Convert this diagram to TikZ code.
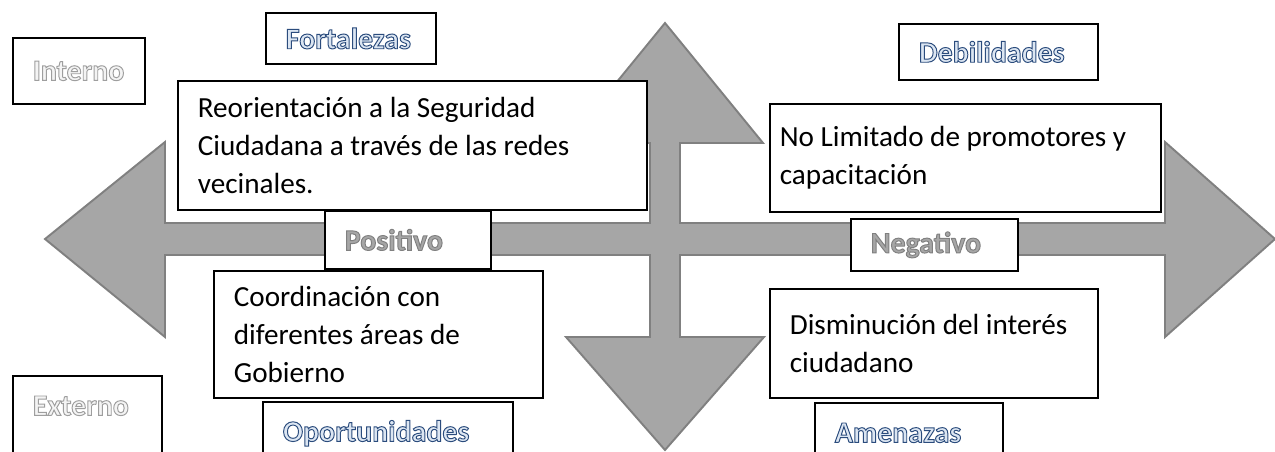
\documentclass[tikz,border=0pt]{standalone}
\usepackage{fontspec}
\setmainfont{Carlito}
\usepackage{xcolor}
\definecolor{arrowgray}{HTML}{A6A6A6}
\definecolor{arrowedge}{HTML}{808080}
\definecolor{bluefill}{HTML}{DCE6F2}
\definecolor{grayfill}{HTML}{F4F4F4}
\definecolor{darkfill}{HTML}{A6A6A6}
% filled and stroked letters (word art look)
\newcommand{\outlined}[3]{\textcolor{#1}{\special{pdf:literal direct 2 Tr 0.55 w #2 RG}#3\special{pdf:literal direct 0 Tr}}}
\newcommand{\bluetag}[1]{\outlined{bluefill}{0.17 0.30 0.49}{#1}}
\newcommand{\lighttag}[1]{\outlined{grayfill}{0.62 0.62 0.62}{#1}}
\newcommand{\darktag}[1]{\outlined{darkfill}{0.50 0.50 0.50}{#1}}

\begin{document}
\begin{tikzpicture}[x=0.02cm, y=-0.02cm,
    box/.style={draw=black, line width=1pt, fill=white, anchor=north west,
                align=flush left, inner xsep=0.4cm, inner ysep=0.2cm},
    txtbox/.style={box, font=\fontsize{16.6}{21.5}\selectfont},
    tagbox/.style={box, font=\fontsize{17}{20}\selectfont\bfseries},
    cutbox/.style={tagbox, text height=0.59cm, text depth=1.2cm}]
  \useasboundingbox (0,0) rectangle (1275,451);
  \clip (0,0) rectangle (1275,451);

  % four way arrow
  \filldraw[fill=arrowgray, draw=arrowedge, line width=1.1pt, line join=miter]
    (45,239) -- (165,142) -- (165,223) -- (650,223) -- (650,143) -- (567,143)
    -- (665,23) -- (763,143) -- (680,143) -- (680,223) -- (1165,223)
    -- (1165,142) -- (1275,239) -- (1165,337) -- (1165,255) -- (680,255)
    -- (680,337) -- (764,337) -- (665,450) -- (566,337) -- (650,337)
    -- (650,255) -- (165,255) -- (165,337) -- cycle;

  \node[tagbox, minimum height=1.32cm, text width=1.84cm] (interno) at (12,37) {\lighttag{Interno}};
  \node[tagbox, minimum height=1.02cm, text width=2.6cm] (fortalezas) at (265,12) {\bluetag{Fortalezas}};
  \node[tagbox, minimum height=1.12cm, text width=3.18cm] (debilidades) at (898,23) {\bluetag{Debilidades}};

  \node[txtbox, minimum height=2.58cm, text width=8.58cm] (reorient) at (177,80)
    {Reorientación a la Seguridad\\Ciudadana a través de las redes\\vecinales.};
  \node[txtbox, minimum height=2.16cm, inner xsep=0.2cm, text width=7.42cm] (limitado) at (769,103)
    {No Limitado de promotores y\\capacitación};

  \node[tagbox, minimum height=1.16cm, text width=2.52cm] (positivo) at (324,210) {\darktag{Positivo}};
  \node[tagbox, minimum height=1.04cm, text width=2.54cm] (negativo) at (850,218) {\darktag{Negativo}};

  \node[txtbox, minimum height=2.54cm, text width=5.78cm] (coordina) at (213,270)
    {Coordinación con\\diferentes áreas de\\Gobierno};
  \node[txtbox, minimum height=2.18cm, text width=5.76cm] (interes) at (769,288)
    {Disminución del interés\\ciudadano};

  \node[cutbox, text width=2.18cm] (externo) at (12,375) {\lighttag{Externo}};
  \node[cutbox, text width=4.2cm] (oportunidades) at (262,401) {\bluetag{Oportunidades}};
  \node[cutbox, text width=2.96cm] (amenazas) at (814,402) {\bluetag{Amenazas}};
\end{tikzpicture}
\end{document}
